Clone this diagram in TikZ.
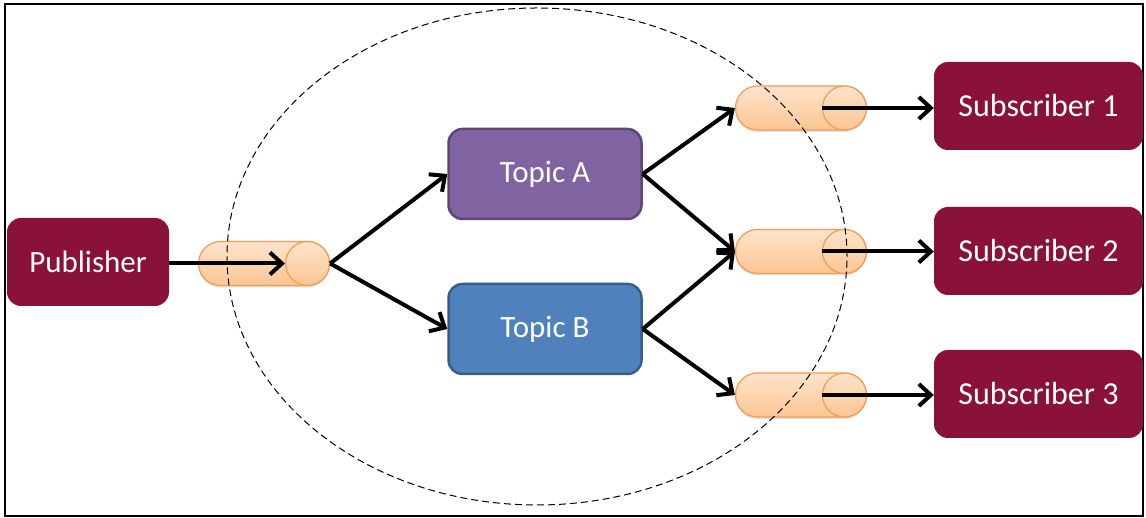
\documentclass[tikz,border=0pt]{standalone}
\usepackage{fontspec}
\setmainfont{Carlito}
\usepackage{tikz}
\usetikzlibrary{calc,positioning,shapes.misc,shapes.geometric,arrows.meta,shadows}
\definecolor{maroon}{HTML}{8A1238}
\definecolor{topicpurple}{HTML}{8064A2}
\definecolor{topicpurpleline}{HTML}{5C4776}
\definecolor{topicblue}{HTML}{4F81BD}
\definecolor{topicblueline}{HTML}{385D8A}
\definecolor{queueline}{HTML}{F79B4F}
\definecolor{queuetop}{HTML}{FEE3CC}
\definecolor{queuebot}{HTML}{FBC693}
\tikzset{
  client/.style={rectangle,rounded corners=14pt,fill=maroon,text=white,font=\fontsize{32}{32}\selectfont,inner sep=0pt},
  topic/.style={rectangle,rounded corners=14pt,line width=2.5pt,text=white,font=\fontsize{31}{31}\selectfont,minimum width=193pt,minimum height=90pt,inner sep=0pt},
  queue/.style={rounded rectangle,draw=queueline,line width=1.2pt,top color=queuetop,bottom color=queuebot,minimum width=131pt,minimum height=44pt,inner sep=0pt,drop shadow={shadow xshift=0pt,shadow yshift=-2pt,opacity=.25}},
  queueend/.style={circle,draw=queueline,line width=1.2pt,top color=queuetop,bottom color=queuebot,minimum size=44pt,inner sep=0pt,anchor=east},
  link/.style={line width=4pt,-{Straight Barb[length=12pt,width=22pt,line width=4pt]}},
}
\begin{document}
\begin{tikzpicture}[x=1pt,y=1pt]
    \useasboundingbox (0,0) rectangle (1146,518);
    \draw[line width=2.5pt] (5,2) rectangle (1143,514);
    \node[client,minimum width=162pt,minimum height=88pt] (pub) at (88,256) {\fontsize{31}{31}\selectfont Publisher};
    \node[client,minimum width=209pt,minimum height=88pt] (sub1) at (1038.5,412) {Subscriber 1};
    \node[client,minimum width=209pt,minimum height=88pt] (sub2) at (1038.5,267) {Subscriber 2};
    \node[client,minimum width=209pt,minimum height=88pt] (sub3) at (1038.5,124) {Subscriber 3};
    \node[topic,fill=topicpurple,draw=topicpurpleline] (topica) at (545,344) {Topic A};
    \node[topic,fill=topicblue,draw=topicblueline] (topicb) at (545,189) {Topic B};
    \node[queue] (qpub) at (264,254.5) {};
    \node[queueend] (qpubend) at (qpub.east) {};
    \node[queue] (q1) at (801,410) {};
    \node[queueend] (q1end) at (q1.east) {};
    \node[queue] (q2) at (801,266.5) {};
    \node[queueend] (q2end) at (q2.east) {};
    \node[queue] (q3) at (801,123) {};
    \node[queueend] (q3end) at (q3.east) {};
    \node[ellipse,draw,dash pattern=on 7pt off 4pt,line width=1pt,minimum width=620pt,minimum height=497pt,inner sep=0pt] (broker) at (537,261.5) {};
    \draw[link] (pub.east |- qpub) -- (qpubend.west);
    \draw[link] (qpub.east) -- (topica.west);
    \draw[link] (qpub.east) -- (topicb.west);
    \draw[link] (topica.east) -- (q1.west);
    \draw[link] (topica.east) -- (q2.west);
    \draw[link] (topicb.east) -- (q2.west);
    \draw[link] (topicb.east) -- (q3.west);
    \draw[link] (q1end.west) -- (sub1.west |- q1end.west);
    \draw[link] (q2end.west) -- (sub2.west |- q2end.west);
    \draw[link] (q3end.west) -- (sub3.west |- q3end.west);
\end{tikzpicture}
\end{document}
